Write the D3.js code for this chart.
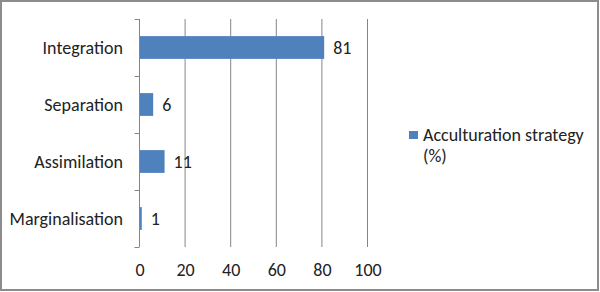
<!DOCTYPE html>
<html>
<head>
<meta charset="utf-8">
<script src="https://cdn.jsdelivr.net/npm/d3@7"></script>
<style>
  body { margin: 0; background: #fff; }
  svg { display: block; }
  text { font-family: Carlito, "Open Sans", sans-serif; fill: #222; }
</style>
</head>
<body>
<svg width="600" height="292"></svg>
<script>
// chart data
var categories = ['Integration', 'Separation', 'Assimilation', 'Marginalisation'];
var values = [81, 6, 11, 1];
var xTicks = [0, 20, 40, 60, 80, 100];
var seriesName = ['Acculturation strategy', '(%)'];

var svg = d3.select('svg');
var barColor = '#4f81bd';
var fontSize = 18;

// outer frame
svg.append('rect')
	.attr('x', 1).attr('y', 1)
	.attr('width', 597).attr('height', 289)
	.attr('fill', 'none')
	.attr('stroke', '#8c8c8c')
	.attr('stroke-width', 2);

var x = d3.scaleLinear().domain([0, 100]).range([139.5, 367.5]);
var y = d3.scaleBand().domain(categories).range([19, 247]).paddingInner(0.6).paddingOuter(0.3);

// vertical gridlines
svg.append('g').selectAll('line')
	.data(xTicks.slice(1))
	.enter().append('line')
	.attr('x1', function (d) { return x(d); })
	.attr('x2', function (d) { return x(d); })
	.attr('y1', 19).attr('y2', 247)
	.attr('stroke', '#868686')
	.attr('stroke-width', 1);

// bars
svg.append('g').selectAll('rect')
	.data(values)
	.enter().append('rect')
	.attr('x', x(0))
	.attr('y', function (d, i) { return y(categories[i]); })
	.attr('width', function (d) { return x(d) - x(0); })
	.attr('height', y.bandwidth())
	.attr('fill', barColor);

// value labels
svg.append('g').selectAll('text')
	.data(values)
	.enter().append('text')
	.attr('x', function (d) { return x(d) + 9; })
	.attr('y', function (d, i) { return y(categories[i]) + y.bandwidth() / 2; })
	.attr('dy', '0.35em')
	.attr('font-size', fontSize)
	.text(function (d) { return d; });

// category axis
var yAxis = d3.axisLeft(d3.scalePoint().domain(d3.range(5)).range([19, 247]))
	.tickSize(5).tickFormat('');
var gy = svg.append('g').attr('transform', 'translate(139.5,0)').call(yAxis);
gy.selectAll('path, line').attr('stroke', '#868686');
gy.select('.domain').attr('d', 'M0,19V247');

svg.append('g').selectAll('text')
	.data(categories)
	.enter().append('text')
	.attr('x', 123)
	.attr('y', function (d) { return y(d) + y.bandwidth() / 2; })
	.attr('dy', '0.35em')
	.attr('text-anchor', 'end')
	.attr('font-size', fontSize)
	.text(function (d) { return d; });

// value axis labels
var xAxis = d3.axisBottom(x).tickValues(xTicks).tickSize(0).tickPadding(16);
var gx = svg.append('g').attr('transform', 'translate(0,247)').call(xAxis);
gx.select('.domain').remove();
gx.selectAll('text').attr('font-size', fontSize).attr('font-family', 'Carlito, "Open Sans", sans-serif').attr('fill', '#222');

// legend
var lg = svg.append('g');
lg.append('rect')
	.attr('x', 409).attr('y', 131)
	.attr('width', 9).attr('height', 8)
	.attr('fill', barColor);
lg.selectAll('text')
	.data(seriesName)
	.enter().append('text')
	.attr('x', 423)
	.attr('y', function (d, i) { return 141 + i * 21; })
	.attr('font-size', fontSize)
	.text(function (d) { return d; });
</script>
</body>
</html>
